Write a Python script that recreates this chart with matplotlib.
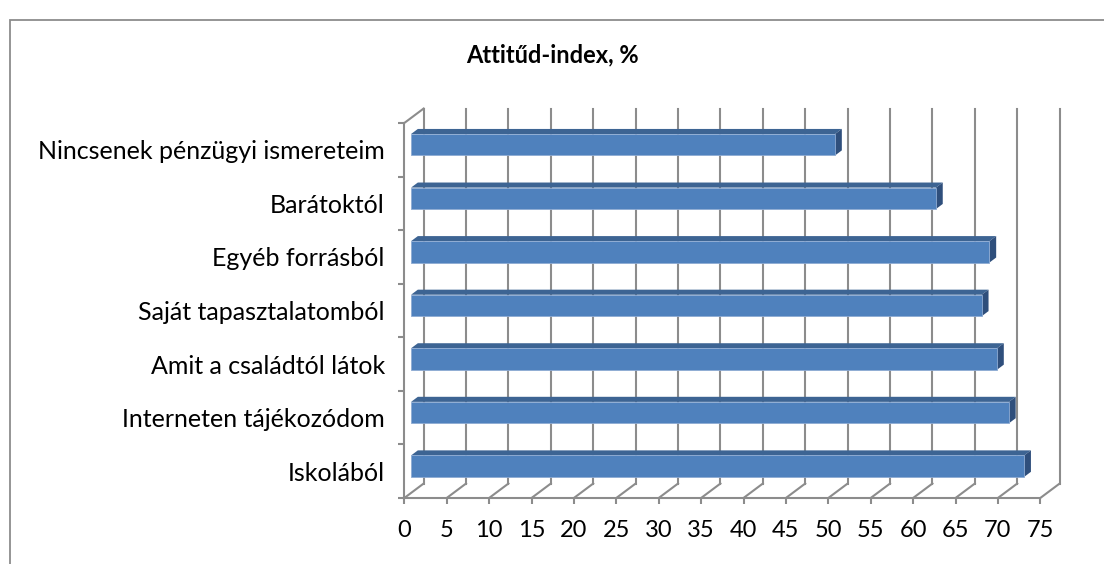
from matplotlib import pyplot as plt
from matplotlib.patches import Polygon, Rectangle

# data
categories = ["Iskolából", "Interneten tájékozódom", "Amit a családtól látok",
              "Saját tapasztalatomból", "Egyéb forrásból", "Barátoktól",
              "Nincsenek pénzügyi ismereteim"]
values = [72.3, 70.5, 69.1, 67.3, 68.2, 61.9, 50.0]
xticks = list(range(0, 80, 5))
title = "Attitűd-index, %"

plt.rcParams['font.family'] = ['Lato', 'DejaVu Sans']

W, H = 1104, 564
fig = plt.figure(figsize=(W / 100, H / 100), dpi=100)

# outer chart border (cut off on the right and bottom like the original)
fig.patches.append(Rectangle((10 / W, -0.05), 1.1, 1 - 20 / H + 0.05, transform=fig.transFigure,
                             fill=False, edgecolor="#8c8c8c", linewidth=1.3))

# front plane of the pseudo 3d box
ax = fig.add_axes([404.3 / W, (H - 498) / H, 636 / W, 375 / H])
ax.set_xlim(0, 75)
ax.set_ylim(-0.5, 6.5)
ax.patch.set_visible(False)

DX = 2.28   # depth offset in x units
DY = 0.27   # depth offset in category units
grid_col = "#8c8c8c"

# back wall gridlines and floor diagonals
for x in xticks:
    ax.plot([x + DX, x + DX], [-0.5 + DY, 6.5 + DY], color=grid_col, lw=1.5, clip_on=False, zorder=1)
    ax.plot([x, x + DX], [-0.5, -0.5 + DY], color=grid_col, lw=1.5, clip_on=False, zorder=1)
# left wall top edge
ax.plot([0, DX], [6.5, 6.5 + DY], color=grid_col, lw=1.5, clip_on=False, zorder=1)

# bars
d1, d2 = 0.35, 0.70
h = 0.4
for i, v in enumerate(values):
    x1, y1 = d1 * DX, i - h / 2 + d1 * DY
    x2, y2 = d2 * DX, i - h / 2 + d2 * DY
    top = Polygon([(x1, y1 + h), (v + x1, y1 + h), (v + x2, y2 + h), (x2, y2 + h)],
                  closed=True, facecolor="#3d6493", edgecolor="none", clip_on=False, zorder=3)
    side = Polygon([(v + x1, y1), (v + x1, y1 + h), (v + x2, y2 + h), (v + x2, y2)],
                   closed=True, facecolor="#2f4f7c", edgecolor="none", clip_on=False, zorder=3)
    front = Rectangle((x1, y1), v, h, facecolor="#4f81bd", edgecolor="#8eabd3",
                      linewidth=0.6, clip_on=False, zorder=4)
    ax.add_patch(top)
    ax.add_patch(side)
    ax.add_patch(front)

# axes lines and ticks
for s in ["top", "right"]:
    ax.spines[s].set_visible(False)
for s in ["left", "bottom"]:
    ax.spines[s].set_color(grid_col)
    ax.spines[s].set_linewidth(1.5)

ax.set_xticks(xticks)
ax.set_xticklabels([str(x) for x in xticks])
ax.tick_params(axis="x", length=4.5, width=1.5, color=grid_col, pad=11, labelsize=17)

ax.set_yticks(range(len(categories)))
ax.set_yticklabels(categories)
ax.set_yticks([i - 0.5 for i in range(len(categories) + 1)], minor=True)
ax.tick_params(axis="y", which="major", length=0, pad=14, labelsize=18)
ax.tick_params(axis="y", which="minor", length=4.5, width=1.5, color=grid_col)

fig.text(552 / W, 1 - 55 / H, title, ha="center", va="center", fontsize=17, fontweight="bold")

fig.savefig("out.png", dpi=100)
